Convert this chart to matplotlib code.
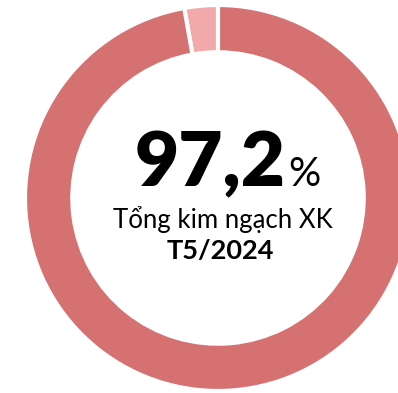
import matplotlib
matplotlib.use('Agg')
import matplotlib.pyplot as plt

# export share for the month, in percent
shares = [2.8, 97.2]
colors = ['#F2A9A9', '#D57171']
headline = '97,2'
subtitle = 'Tổng kim ngạch XK'
period = 'T5/2024'

W, H = 398, 393
fig = plt.figure(figsize=(W/100, H/100), dpi=100)
ax = fig.add_axes([0, 0, 1, 1])
ax.set_xlim(0, W); ax.set_ylim(0, H); ax.set_aspect('equal'); ax.axis('off')

cx, cy, R = 218, H-198, 193
ax.pie(shares, colors=colors, startangle=90, counterclock=True,
       center=(cx, cy), radius=R, frame=True,
       wedgeprops=dict(width=R*0.245, edgecolor='white', linewidth=3))
ax.set_xlim(0, W); ax.set_ylim(0, H); ax.axis('off')

fam = ['Lato', 'DejaVu Sans']
ax.text(286, H-186, headline, ha='right', va='baseline', fontsize=55,
        fontweight='heavy', family=fam, color='black')
ax.text(288, H-186, '%', ha='left', va='baseline', fontsize=29,
        family=fam, color='black')
ax.text(223, H-228, subtitle, ha='center', va='baseline', fontsize=18.5,
        family=fam, color='black')
ax.text(220, H-259, period, ha='center', va='baseline', fontsize=19.5,
        fontweight='bold', family=fam, color='black')

fig.savefig('out.png', dpi=100)
